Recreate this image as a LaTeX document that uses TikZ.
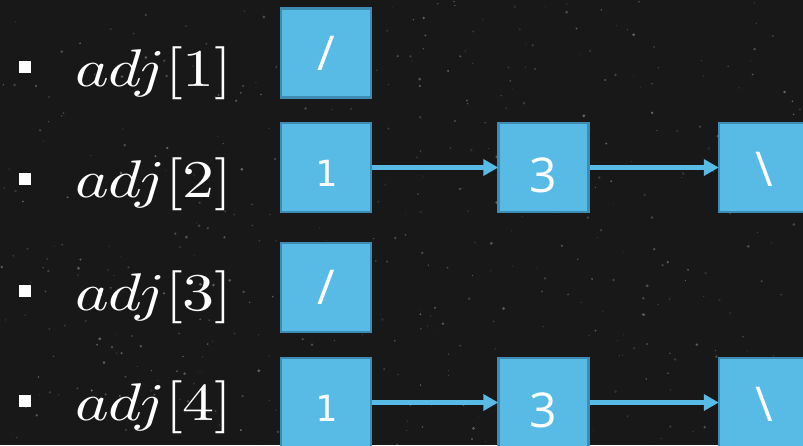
\documentclass[tikz,border=0pt]{standalone}
\usepackage{fontspec}
\setmainfont{Open Sans}
\newfontfamily\monofnt{DejaVu Sans Mono}
\usetikzlibrary{arrows.meta}
\definecolor{bgcol}{RGB}{24,24,24}
\definecolor{boxfill}{RGB}{88,187,230}
\definecolor{boxline}{RGB}{62,140,180}
\definecolor{arrcol}{RGB}{88,187,230}
\tikzset{
  cell/.style={draw=boxline, fill=boxfill, line width=2.5pt, minimum width=90pt, minimum height=89pt, inner sep=0pt, text=white, font=\fontsize{48}{48}\selectfont},
  lbl/.style={anchor=base west, inner sep=0pt, text=white},
  bul/.style={fill=white, minimum size=12pt, inner sep=0pt},
  link/.style={draw=arrcol, line width=5pt, -{Triangle[length=15pt,width=16pt]}, shorten >=-1pt}
}
\newcommand{\adjlbl}[1]{\scalebox{6.4}[5.3]{$adj[#1]$}}
\newcommand{\cellone}{\raisebox{-19pt}[0pt][0pt]{\monofnt\fontsize{36}{36}\selectfont 1}}
\newcommand{\cellthree}{\raisebox{-25pt}[0pt][0pt]{3}}
\newcommand{\cellslash}{\raisebox{-17pt}[0pt][0pt]{/}}
\newcommand{\cellback}{\raisebox{-19pt}[0pt][0pt]{\textbackslash}}
\begin{document}
\begin{tikzpicture}[x=1pt,y=-1pt]
\useasboundingbox (0,0) rectangle (803,445);
\fill[bgcol] (0,0) rectangle (803,445);
\clip (0,0) rectangle (803,445);
% chalkboard texture
\pgfmathsetseed{7}
\foreach \i in {1,...,500}{
  \pgfmathsetmacro{\px}{rnd*803}
  \pgfmathsetmacro{\py}{rnd*445}
  \pgfmathsetmacro{\pr}{0.4+rnd*1.2}
  \pgfmathsetmacro{\po}{0.08+rnd*0.25}
  \fill[white, opacity=\po] (\px,\py) circle[radius=\pr];
}
% bullets
\node[bul] (b1) at (25,67) {};
\node[bul] (b2) at (25,179) {};
\node[bul] (b3) at (25,291) {};
\node[bul] (b4) at (25,401) {};
% labels
\node[lbl] (l1) at (75,86) {\adjlbl{1}};
\node[lbl] (l2) at (75,197) {\adjlbl{2}};
\node[lbl] (l3) at (75,310) {\adjlbl{3}};
\node[lbl] (l4) at (75,420) {\adjlbl{4}};
% boxes
\node[cell] (a1) at (326,53) {\cellslash};
\node[cell] (a2) at (326,167.5) {\cellone};
\node[cell] (c2) at (543.5,167.5) {\cellthree};
\node[cell] (d2) at (764,167.5) {\cellback};
\node[cell] (a3) at (326,287.5) {\cellslash};
\node[cell] (a4) at (326,402.5) {\cellone};
\node[cell] (c4) at (543.5,402.5) {\cellthree};
\node[cell] (d4) at (764,402.5) {\cellback};
% links
\draw[link] (a2.east) -- (c2.west);
\draw[link] (c2.east) -- (d2.west);
\draw[link] (a4.east) -- (c4.west);
\draw[link] (c4.east) -- (d4.west);
\end{tikzpicture}
\end{document}
